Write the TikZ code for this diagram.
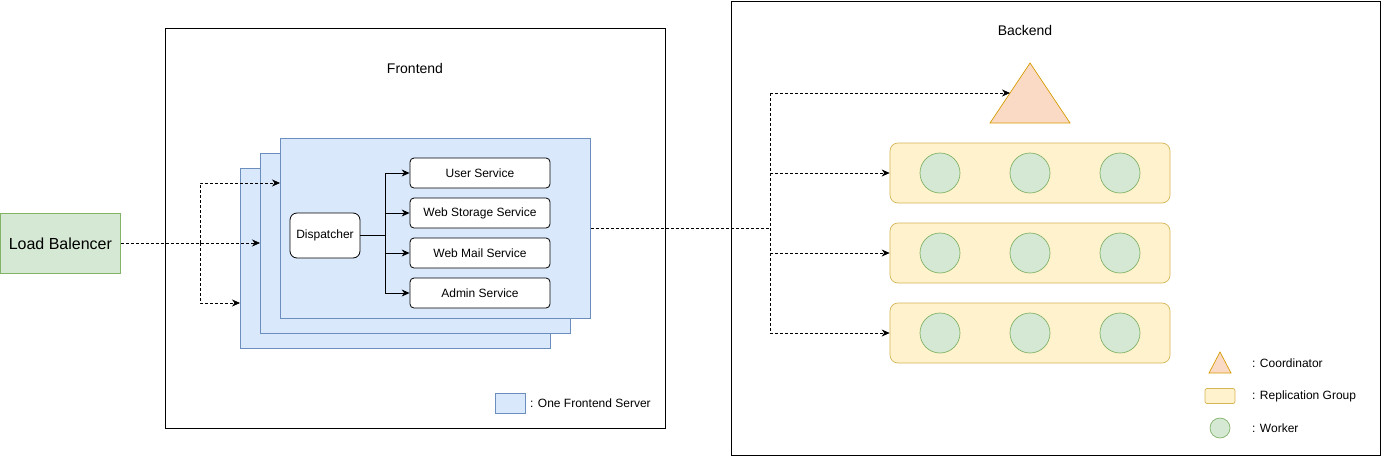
\documentclass[tikz,border=0pt]{standalone}
\usepackage{fontspec}
\setmainfont{Liberation Sans}
\usetikzlibrary{arrows.meta,shapes.geometric}
\definecolor{lbfill}{HTML}{D5E8D4}
\definecolor{lbdraw}{HTML}{82B366}
\definecolor{bfill}{HTML}{DAE8FC}
\definecolor{bdraw}{HTML}{6C8EBF}
\definecolor{yfill}{HTML}{FFF2CC}
\definecolor{ydraw}{HTML}{D6B656}
\definecolor{ofill}{HTML}{FAD9C5}
\definecolor{odraw}{HTML}{D79B00}
\tikzset{
  px/.style={x=1pt,y=-1pt},
  container/.style={draw=black,line width=0.8pt,fill=white},
  server/.style={draw=bdraw,fill=bfill,line width=0.8pt,inner sep=0pt},
  svc/.style={draw=black,fill=white,rounded corners=4pt,line width=0.8pt,minimum width=140pt,minimum height=30pt,inner sep=0pt,font=\fontsize{12}{14}\selectfont},
  group/.style={draw=ydraw,fill=yfill,rounded corners=8pt,line width=0.7pt,minimum width=280pt,minimum height=60pt,inner sep=0pt},
  worker/.style={circle,draw=lbdraw,fill=lbfill,line width=0.7pt,minimum size=40pt,inner sep=0pt},
  coordtri/.style={draw=odraw,fill=ofill,line width=0.7pt,line join=miter},
  dasharrow/.style={densely dashed,line width=0.7pt,-{Stealth[length=8pt,width=7pt]}},
  dashline/.style={densely dashed,line width=0.7pt},
  solidarrow/.style={line width=0.8pt,-{Stealth[length=8pt,width=7pt]}},
  lbl/.style={font=\fontsize{12}{14}\selectfont,anchor=west,inner sep=0pt},
  title/.style={font=\fontsize{14}{16}\selectfont,inner sep=0pt},
}
\begin{document}
\begin{tikzpicture}[px]
\useasboundingbox (0,0) rectangle (1381,456);
% containers
\node[container,minimum width=500pt,minimum height=400pt,inner sep=0pt,anchor=north west] (front) at (165,28) {};
\node[container,minimum width=649pt,minimum height=454pt,inner sep=0pt,anchor=north west] (back) at (731,1) {};
\node[title] (ftitle) at (415,68) {Frontend};
\node[title] (btitle) at (1025,30) {Backend};
% load balancer
\node[draw=lbdraw,fill=lbfill,line width=0.8pt,minimum width=120pt,minimum height=60pt,inner sep=0pt,anchor=north west,font=\fontsize{16}{18}\selectfont] (lb) at (0,213) {Load Balencer};
% servers
\node[server,minimum width=310pt,minimum height=180pt,anchor=north west] (s3) at (240,168) {};
\node[server,minimum width=310pt,minimum height=180pt,anchor=north west] (s2) at (260,153) {};
\node[server,minimum width=310pt,minimum height=180pt,anchor=north west] (s1) at (280,138) {};
% dispatcher and services
\node[draw=black,fill=white,rounded corners=7pt,line width=0.8pt,minimum width=70pt,minimum height=45pt,inner sep=0pt,font=\fontsize{12}{14}\selectfont] (disp) at (325,235.5) {Dispatcher};
\node[svc] (us) at (480,173) {User Service};
\node[svc] (ws) at (480,213) {Web Storage Service};
\node[svc] (wm) at (480,253) {Web Mail Service};
\node[svc] (as) at (480,293) {Admin Service};
\coordinate (dj) at (385,235.5);
\draw[line width=1.8pt] (disp.east) -- (dj);
\draw[line width=0.8pt] (385,173) -- (385,293);
\foreach \t in {us,ws,wm,as}{
  \draw[solidarrow] (dj |- \t.west) -- (\t.west);
}
% load balancer arrows
\coordinate (lbj) at (200,243);
\draw[dasharrow] (lb.east |- lbj) -- (s2.west |- lbj);
\draw[dasharrow] (lbj) -- (200,183) -- (s1.west |- 0,183);
\draw[dasharrow] (lbj) -- (200,303) -- (s3.west |- 0,303);
% backend coordinator
\draw[coordtri] (1030,63) -- (1070,123) -- (990,123) -- cycle;
\coordinate (co) at (1010,93);
\node[group] (g1) at (1030,173) {};
\node[group] (g2) at (1030,253) {};
\node[group] (g3) at (1030,333) {};
\foreach \g in {1,2,3}{
  \node[worker] (w\g a) at (940,93+80*\g) {};
  \node[worker] (w\g b) at (1030,93+80*\g) {};
  \node[worker] (w\g c) at (1120,93+80*\g) {};
}
\coordinate (bj) at (770,228);
\draw[dashline] (s1.east |- bj) -- (bj);
\draw[dashline] (770,93) -- (770,333);
\draw[dasharrow] (770,93) -- (co);
\draw[dasharrow] (770,173) -- (g1.west);
\draw[dasharrow] (770,253) -- (g2.west);
\draw[dasharrow] (770,333) -- (g3.west);
% legends
\node[server,minimum width=30pt,minimum height=20pt,anchor=north west] (lgs) at (495,393) {};
\node[lbl] (lgst) at (530,403) {: One Frontend Server};
\draw[coordtri] (1220,352) -- (1231,373) -- (1209,373) -- cycle;
\node[lbl] (lgct) at (1252,363) {: Coordinator};
\node[draw=ydraw,fill=yfill,rounded corners=2pt,line width=0.7pt,minimum width=30pt,minimum height=15pt,inner sep=0pt] (lgg) at (1220,396) {};
\node[lbl] (lggt) at (1252,396) {: Replication Group};
\node[worker,minimum size=20pt] (lgw) at (1220,428) {};
\node[lbl] (lgwt) at (1252,428) {: Worker};
\end{tikzpicture}
\end{document}
